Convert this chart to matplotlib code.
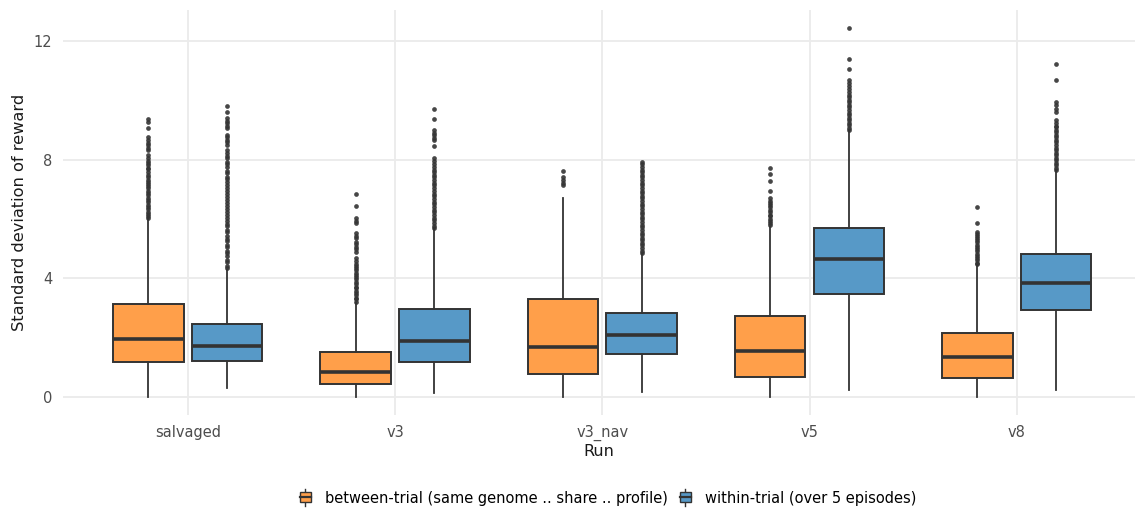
import matplotlib
matplotlib.use('Agg')
import matplotlib.pyplot as plt
from matplotlib.legend_handler import HandlerBase
from matplotlib.patches import Rectangle, Patch
from matplotlib.lines import Line2D

runs = ['salvaged', 'v3', 'v3_nav', 'v5', 'v8']

# between-trial: quartis, mediana e limites dos bigodes por run
between_q1 = [1.19, 0.43, 0.79, 0.69, 0.65]
between_med = [1.95, 0.85, 1.70, 1.56, 1.34]
between_q3 = [3.13, 1.53, 3.29, 2.72, 2.17]
between_lo = [0.0, 0.0, 0.0, 0.0, 0.0]
between_hi = [6.08, 3.18, 6.70, 5.74, 4.45]

# within-trial
within_q1 = [1.22, 1.17, 1.45, 3.48, 2.93]
within_med = [1.73, 1.88, 2.09, 4.65, 3.83]
within_q3 = [2.47, 2.97, 2.82, 5.69, 4.82]
within_lo = [0.29, 0.12, 0.18, 0.24, 0.24]
within_hi = [4.28, 5.69, 4.82, 9.00, 7.65]

# outliers (pontos acima do bigode)
between_out_salvaged = [6.02, 6.09, 6.18, 6.24, 6.33, 6.41, 6.47, 6.56, 6.63, 6.70,
                        6.81, 6.87, 6.96, 7.03, 7.11, 7.17, 7.26, 7.33, 7.41, 7.48,
                        7.59, 7.67, 7.73, 7.82, 7.90, 7.97, 8.06, 8.16,
                        8.32, 8.41, 8.48, 8.57, 8.65, 8.77, 9.08, 9.28, 9.37]
between_out_v3 = [3.21, 3.29, 3.35, 3.44, 3.50, 3.59, 3.66, 3.72, 3.81, 3.88,
                  3.97, 4.03, 4.11, 4.18, 4.27, 4.34, 4.43, 4.50, 4.59, 4.67,
                  4.90, 4.99, 5.07, 5.16, 5.24, 5.35, 5.43, 5.52,
                  5.85, 5.93, 6.02, 6.44, 6.84]
between_out_v3_nav = [7.15, 7.22, 7.31, 7.43, 7.63]
between_out_v5 = [5.80, 5.87, 5.95, 6.01, 6.09, 6.15, 6.24, 6.30, 6.39, 6.46,
                  6.55, 6.62, 6.70, 6.95, 7.29, 7.51, 7.71]
between_out_v8 = [4.47, 4.53, 4.62, 4.68, 4.76, 4.83, 4.91, 4.98, 5.06, 5.13,
                  5.21, 5.28, 5.36, 5.43, 5.51, 5.57, 5.85, 6.41]

within_out_salvaged = [4.34, 4.43, 4.55, 4.63, 4.75, 4.84, 4.93, 5.05, 5.13, 5.25,
                       5.34, 5.43, 5.55, 5.63, 5.75, 5.84, 5.93, 6.05, 6.13, 6.25,
                       6.34, 6.43, 6.55, 6.63, 6.75, 6.84, 6.93, 7.05, 7.13, 7.25,
                       7.34, 7.43, 7.55, 7.63, 7.75, 7.84, 7.93, 8.05, 8.13, 8.24,
                       8.32, 8.49, 8.58, 8.66, 8.75, 8.83, 9.06, 9.15, 9.23, 9.32,
                       9.39, 9.62, 9.81]
within_out_v3 = [5.69, 5.78, 5.87, 5.96, 6.05, 6.13, 6.23, 6.31, 6.41, 6.50,
                 6.58, 6.68, 6.76, 6.86, 6.95, 7.03, 7.13, 7.21, 7.31, 7.40,
                 7.48, 7.58, 7.66, 7.76, 7.85, 7.94, 8.05, 8.47, 8.66, 8.74,
                 8.83, 8.91, 9.00, 9.37, 9.71]
within_out_v3_nav = [4.84, 4.93, 5.01, 5.11, 5.19, 5.28, 5.37, 5.46, 5.54, 5.64,
                     5.72, 5.81, 5.90, 5.99, 6.07, 6.17, 6.25, 6.34, 6.43, 6.52,
                     6.60, 6.70, 6.78, 6.87, 6.96, 7.05, 7.13, 7.23, 7.31, 7.40,
                     7.49, 7.58, 7.66, 7.76, 7.84, 7.93]
within_out_v5 = [9.00, 9.08, 9.17, 9.25, 9.34, 9.42, 9.51, 9.59, 9.68, 9.76,
                 9.85, 9.93, 10.02, 10.10, 10.18, 10.29, 10.38, 10.48, 10.58,
                 10.68, 11.06, 11.38, 12.43]
within_out_v8 = [7.65, 7.73, 7.82, 7.90, 7.99, 8.07, 8.16, 8.24, 8.33, 8.41,
                 8.50, 8.58, 8.67, 8.75, 8.84, 8.92, 9.01, 9.09, 9.15, 9.22,
                 9.34, 9.62, 9.72, 9.83, 9.95, 10.67, 11.21]

between_out = [between_out_salvaged, between_out_v3, between_out_v3_nav,
               between_out_v5, between_out_v8]
within_out = [within_out_salvaged, within_out_v3, within_out_v3_nav,
              within_out_v5, within_out_v8]

cor_between = '#FF9F4A'
cor_within = '#5799C7'
cor_linha = '#333333'
legenda_between = 'between-trial (same genome .. share .. profile)'
legenda_within = 'within-trial (over 5 episodes)'


def monta_stats(q1, med, q3, lo, hi, fliers):
    stats = []
    for i in range(len(q1)):
        stats.append({'q1': q1[i], 'med': med[i], 'q3': q3[i],
                      'whislo': lo[i], 'whishi': hi[i], 'fliers': fliers[i]})
    return stats


# desenha a chave da legenda no formato de boxplot
class HandlerCaixa(HandlerBase):
    def create_artists(self, legend, orig_handle, xdescent, ydescent,
                       width, height, fontsize, trans):
        x0, y0 = -xdescent, -ydescent
        cx = x0 + width / 2
        topo = y0 + height * 1.3
        base = y0 - height * 0.3
        bigode = Line2D([cx, cx], [base, topo], color=cor_linha, lw=1.0, transform=trans)
        caixa = Rectangle((x0, y0 + height * 0.02), width, height * 0.96,
                          facecolor=orig_handle.get_facecolor(), edgecolor=cor_linha,
                          lw=1.0, transform=trans)
        mediana = Line2D([x0, x0 + width], [y0 + height / 2] * 2, color=cor_linha,
                         lw=1.6, transform=trans)
        return [bigode, caixa, mediana]


fig = plt.figure(figsize=(11.35, 5.08), dpi=100)
ax = fig.add_axes([0.0558, 0.183, 0.9442, 0.797])

posicoes = list(range(len(runs)))
desloc = 0.19
largura = 0.34

grupos = [
    (monta_stats(between_q1, between_med, between_q3, between_lo, between_hi, between_out),
     [p - desloc for p in posicoes], cor_between),
    (monta_stats(within_q1, within_med, within_q3, within_lo, within_hi, within_out),
     [p + desloc for p in posicoes], cor_within),
]

for stats, pos, cor in grupos:
    ax.bxp(stats, positions=pos, widths=largura, patch_artist=True, showcaps=False,
           boxprops=dict(facecolor=cor, edgecolor=cor_linha, linewidth=1.4),
           medianprops=dict(color=cor_linha, linewidth=2.6, solid_capstyle='butt'),
           whiskerprops=dict(color=cor_linha, linewidth=1.3),
           flierprops=dict(marker='o', markerfacecolor=cor_linha, markeredgecolor='none',
                           markersize=3.4, alpha=0.9),
           zorder=3)

ax.set_xlim(-0.6, 4.57)
ax.set_ylim(-0.607, 13.04)
ax.set_xticks(posicoes)
ax.set_xticklabels(runs)
ax.set_yticks([0, 4, 8, 12])
ax.set_yticklabels(['0', '4', '8', '12'])

ax.grid(True, color='#EBEBEB', linewidth=1.3, zorder=0)
ax.set_axisbelow(True)
for lado in ax.spines.values():
    lado.set_visible(False)
ax.tick_params(length=0, labelsize=10.5, labelcolor='#4D4D4D')
ax.tick_params(axis='y', pad=8)
ax.tick_params(axis='x', pad=7)

ax.set_xlabel('Run', fontsize=11.5, color='#1A1A1A', labelpad=2)
ax.set_ylabel('Standard deviation of reward', fontsize=11.7, color='#1A1A1A', labelpad=5)

handles = [Patch(facecolor=cor_between), Patch(facecolor=cor_within)]
fig.legend(handles, [legenda_between, legenda_within], loc='center',
           bbox_to_anchor=(0.536, 10 / 508), ncol=2, frameon=False, fontsize=10.5,
           handler_map={Patch: HandlerCaixa()}, handlelength=0.75, handleheight=0.7,
           handletextpad=1.0, columnspacing=0.8, borderpad=0.0)

fig.savefig('out.png', dpi=100)
